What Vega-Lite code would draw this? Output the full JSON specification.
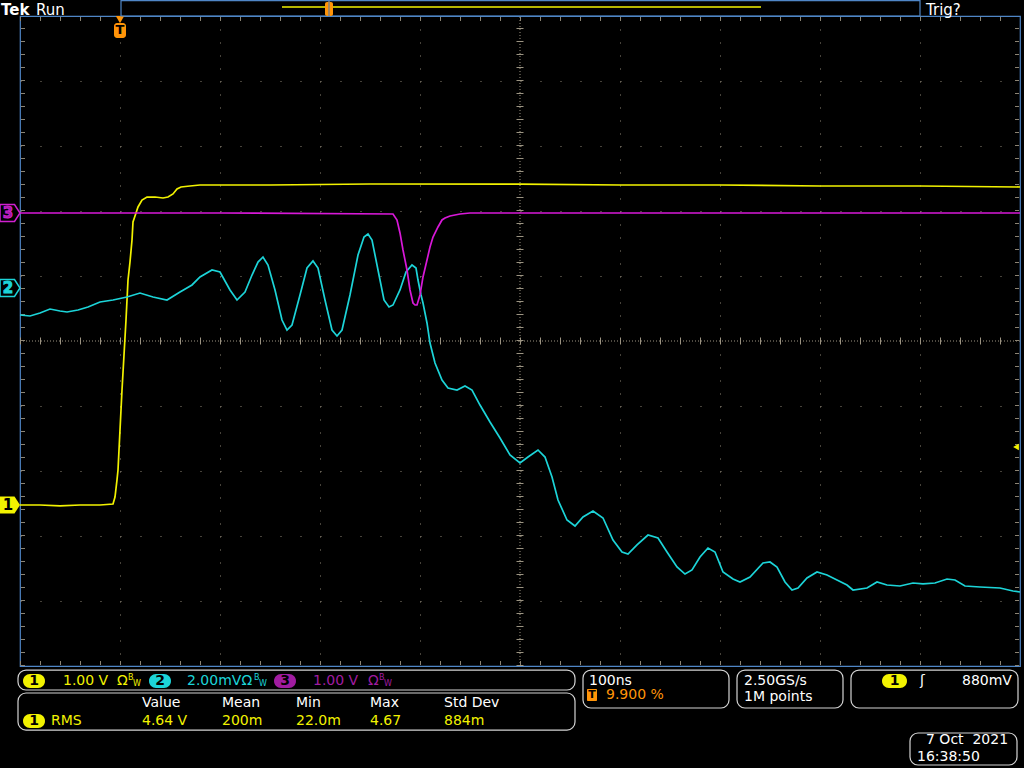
{
  "$schema": "https://vega.github.io/schema/vega-lite/v6.json",
  "width": 1000,
  "height": 650,
  "autosize": {"type": "none"},
  "padding": {"left": 20, "top": 16, "right": 4, "bottom": 102},
  "background": "#000000",
  "config": {
    "view": {"stroke": "#4f86c6", "strokeWidth": 1.2},
    "text": {"font": "DejaVu Sans"}
  },
  "datasets": {
    "traces": [
      {"ch":"1","t":-100,"v":-2.523},{"ch":"1","t":-80,"v":-2.523},{"ch":"1","t":-60,"v":-2.538},{"ch":"1","t":-40,"v":-2.523},{"ch":"1","t":-20,"v":-2.523},{"ch":"1","t":-7,"v":-2.508},{"ch":"1","t":-5,"v":-2.4},{"ch":"1","t":-3,"v":-2.138},{"ch":"1","t":-2,"v":-1.985},{"ch":"1","t":0,"v":-1.369},{"ch":"1","t":2,"v":-0.754},{"ch":"1","t":4,"v":-0.215},{"ch":"1","t":6,"v":0.323},{"ch":"1","t":8,"v":0.938},{"ch":"1","t":10,"v":1.215},{"ch":"1","t":12,"v":1.554},{"ch":"1","t":13,"v":1.831},{"ch":"1","t":16,"v":1.969},{"ch":"1","t":18,"v":2.062},{"ch":"1","t":22,"v":2.169},{"ch":"1","t":27,"v":2.215},{"ch":"1","t":35,"v":2.215},{"ch":"1","t":43,"v":2.2},{"ch":"1","t":48,"v":2.215},{"ch":"1","t":53,"v":2.262},{"ch":"1","t":57,"v":2.338},{"ch":"1","t":61,"v":2.369},{"ch":"1","t":70,"v":2.385},{"ch":"1","t":80,"v":2.4},{"ch":"1","t":150,"v":2.4},{"ch":"1","t":250,"v":2.415},{"ch":"1","t":400,"v":2.415},{"ch":"1","t":500,"v":2.4},{"ch":"1","t":600,"v":2.4},{"ch":"1","t":700,"v":2.385},{"ch":"1","t":800,"v":2.385},{"ch":"1","t":900,"v":2.369},
      {"ch":"2","t":-100,"v":0.4},{"ch":"2","t":-90,"v":0.385},{"ch":"2","t":-80,"v":0.431},{"ch":"2","t":-70,"v":0.492},{"ch":"2","t":-60,"v":0.462},{"ch":"2","t":-53,"v":0.446},{"ch":"2","t":-42,"v":0.477},{"ch":"2","t":-32,"v":0.523},{"ch":"2","t":-20,"v":0.6},{"ch":"2","t":-7,"v":0.631},{"ch":"2","t":7,"v":0.677},{"ch":"2","t":20,"v":0.738},{"ch":"2","t":33,"v":0.677},{"ch":"2","t":47,"v":0.631},{"ch":"2","t":60,"v":0.754},{"ch":"2","t":72,"v":0.862},{"ch":"2","t":80,"v":0.985},{"ch":"2","t":92,"v":1.092},{"ch":"2","t":100,"v":1.062},{"ch":"2","t":110,"v":0.785},{"ch":"2","t":117,"v":0.631},{"ch":"2","t":125,"v":0.754},{"ch":"2","t":132,"v":1.015},{"ch":"2","t":138,"v":1.215},{"ch":"2","t":143,"v":1.292},{"ch":"2","t":148,"v":1.169},{"ch":"2","t":155,"v":0.785},{"ch":"2","t":162,"v":0.323},{"ch":"2","t":167,"v":0.169},{"ch":"2","t":172,"v":0.246},{"ch":"2","t":180,"v":0.708},{"ch":"2","t":187,"v":1.123},{"ch":"2","t":193,"v":1.231},{"ch":"2","t":198,"v":1.123},{"ch":"2","t":205,"v":0.631},{"ch":"2","t":212,"v":0.169},{"ch":"2","t":217,"v":0.077},{"ch":"2","t":222,"v":0.169},{"ch":"2","t":230,"v":0.708},{"ch":"2","t":238,"v":1.323},{"ch":"2","t":244,"v":1.6},{"ch":"2","t":248,"v":1.646},{"ch":"2","t":252,"v":1.554},{"ch":"2","t":258,"v":1.092},{"ch":"2","t":264,"v":0.631},{"ch":"2","t":269,"v":0.523},{"ch":"2","t":273,"v":0.554},{"ch":"2","t":280,"v":0.785},{"ch":"2","t":286,"v":1.062},{"ch":"2","t":292,"v":1.169},{"ch":"2","t":296,"v":1.123},{"ch":"2","t":298,"v":0.938},{"ch":"2","t":301,"v":0.708},{"ch":"2","t":303,"v":0.585},{"ch":"2","t":307,"v":0.277},{"ch":"2","t":310,"v":-0.031},{"ch":"2","t":315,"v":-0.338},{"ch":"2","t":322,"v":-0.6},{"ch":"2","t":328,"v":-0.723},{"ch":"2","t":337,"v":-0.754},{"ch":"2","t":345,"v":-0.692},{"ch":"2","t":352,"v":-0.754},{"ch":"2","t":360,"v":-0.985},{"ch":"2","t":370,"v":-1.246},{"ch":"2","t":380,"v":-1.492},{"ch":"2","t":390,"v":-1.754},{"ch":"2","t":400,"v":-1.877},{"ch":"2","t":408,"v":-1.785},{"ch":"2","t":418,"v":-1.677},{"ch":"2","t":425,"v":-1.785},{"ch":"2","t":432,"v":-2.092},{"ch":"2","t":438,"v":-2.446},{"ch":"2","t":447,"v":-2.754},{"ch":"2","t":455,"v":-2.846},{"ch":"2","t":463,"v":-2.708},{"ch":"2","t":473,"v":-2.615},{"ch":"2","t":483,"v":-2.723},{"ch":"2","t":493,"v":-3.062},{"ch":"2","t":502,"v":-3.246},{"ch":"2","t":508,"v":-3.277},{"ch":"2","t":517,"v":-3.138},{"ch":"2","t":528,"v":-2.985},{"ch":"2","t":538,"v":-3.031},{"ch":"2","t":547,"v":-3.246},{"ch":"2","t":557,"v":-3.477},{"ch":"2","t":565,"v":-3.585},{"ch":"2","t":572,"v":-3.523},{"ch":"2","t":580,"v":-3.323},{"ch":"2","t":588,"v":-3.185},{"ch":"2","t":595,"v":-3.246},{"ch":"2","t":603,"v":-3.554},{"ch":"2","t":613,"v":-3.662},{"ch":"2","t":620,"v":-3.708},{"ch":"2","t":630,"v":-3.631},{"ch":"2","t":643,"v":-3.415},{"ch":"2","t":650,"v":-3.4},{"ch":"2","t":657,"v":-3.477},{"ch":"2","t":665,"v":-3.708},{"ch":"2","t":672,"v":-3.831},{"ch":"2","t":678,"v":-3.8},{"ch":"2","t":687,"v":-3.646},{"ch":"2","t":697,"v":-3.554},{"ch":"2","t":707,"v":-3.6},{"ch":"2","t":717,"v":-3.677},{"ch":"2","t":727,"v":-3.754},{"ch":"2","t":733,"v":-3.831},{"ch":"2","t":747,"v":-3.8},{"ch":"2","t":757,"v":-3.708},{"ch":"2","t":767,"v":-3.754},{"ch":"2","t":780,"v":-3.769},{"ch":"2","t":793,"v":-3.723},{"ch":"2","t":803,"v":-3.738},{"ch":"2","t":815,"v":-3.723},{"ch":"2","t":827,"v":-3.662},{"ch":"2","t":835,"v":-3.677},{"ch":"2","t":845,"v":-3.769},{"ch":"2","t":860,"v":-3.785},{"ch":"2","t":880,"v":-3.8},{"ch":"2","t":893,"v":-3.846},{"ch":"2","t":900,"v":-3.862},
      {"ch":"3","t":-100,"v":1.969},{"ch":"3","t":100,"v":1.969},{"ch":"3","t":273,"v":1.954},{"ch":"3","t":277,"v":1.862},{"ch":"3","t":280,"v":1.662},{"ch":"3","t":283,"v":1.4},{"ch":"3","t":287,"v":1.092},{"ch":"3","t":290,"v":0.785},{"ch":"3","t":293,"v":0.585},{"ch":"3","t":295,"v":0.554},{"ch":"3","t":297,"v":0.554},{"ch":"3","t":300,"v":0.708},{"ch":"3","t":303,"v":0.985},{"ch":"3","t":307,"v":1.246},{"ch":"3","t":310,"v":1.446},{"ch":"3","t":313,"v":1.6},{"ch":"3","t":318,"v":1.754},{"ch":"3","t":322,"v":1.862},{"ch":"3","t":325,"v":1.892},{"ch":"3","t":330,"v":1.923},{"ch":"3","t":340,"v":1.954},{"ch":"3","t":350,"v":1.969},{"ch":"3","t":600,"v":1.969},{"ch":"3","t":900,"v":1.969}
    ],
    "hcenter": [{"t":-100,"t2":900,"v":0}],
    "vcenter": [{"t":400,"v":-5,"v2":5}],
    "topedge": [{"t":-100,"t2":900,"v":5}],
    "botedge": [{"t":-100,"t2":900,"v":-5}],
    "leftedge": [{"t":-100,"v":-5,"v2":5}],
    "rightedge": [{"t":900,"v":-5,"v2":5}],
    "marker1": [{"t":-110,"v":-2.523,"ch":"1"}],
    "marker23": [{"t":-110,"v":0.815,"ch":"2"},{"t":-110,"v":1.969,"ch":"3"}],
    "markerdigits": [{"t":-112,"v":-2.523,"label":"1","ch":"1"}],
    "markerdigits23": [{"t":-112,"v":0.815,"label":"2","ch":"2"},{"t":-112,"v":1.969,"label":"3","ch":"3"}],
    "triglevel": [{"t":896,"v":-1.631}],
    "trigtri": [{"t":0,"v":4.946}],
    "trigbox": [{"t":-6,"t2":6,"v":4.892,"v2":4.662}],
    "trigT": [{"t":0,"v":4.777,"label":"T"}],
    "topbar": [{"t":1,"t2":800,"v":5.238,"v2":5.0}],
    "topline": [{"t":162,"t2":641,"v":5.138}],
    "topmark": [{"t":205,"t2":213,"v":5.215,"v2":5.0}],
    "topmarkline": [{"t":209,"v":5.23,"v2":5.0}],
    "panels": [
      {"t":-102,"t2":455,"v":-5.062,"v2":-5.369},
      {"t":-102,"t2":455,"v":-5.415,"v2":-5.985},
      {"t":463,"t2":609,"v":-5.062,"v2":-5.646},
      {"t":617,"t2":723,"v":-5.062,"v2":-5.646},
      {"t":731,"t2":898,"v":-5.062,"v2":-5.646},
      {"t":790,"t2":897,"v":-6.031,"v2":-6.523}
    ],
    "pills": [
      {"ch":"1","t":-97,"t2":-75,"v":-5.123,"v2":-5.338},
      {"ch":"2","t":29,"t2":51,"v":-5.123,"v2":-5.338},
      {"ch":"3","t":154,"t2":176,"v":-5.123,"v2":-5.338},
      {"ch":"1","t":-97,"t2":-75,"v":-5.738,"v2":-5.954},
      {"ch":"1","t":762,"t2":787,"v":-5.123,"v2":-5.338}
    ],
    "pilldigits": [
      {"t":-86,"v":-5.231,"label":"1"},
      {"t":40,"v":-5.231,"label":"2"},
      {"t":165,"v":-5.231,"label":"3"},
      {"t":-86,"v":-5.846,"label":"1"},
      {"t":774.5,"v":-5.231,"label":"1"}
    ],
    "whitetext": [
      {"t":22,"v":-5.569,"label":"Value"},
      {"t":102,"v":-5.569,"label":"Mean"},
      {"t":176,"v":-5.569,"label":"Min"},
      {"t":250,"v":-5.569,"label":"Max"},
      {"t":324,"v":-5.569,"label":"Std Dev"},
      {"t":469,"v":-5.231,"label":"100ns"},
      {"t":624,"v":-5.231,"label":"2.50GS/s"},
      {"t":624,"v":-5.477,"label":"1M points"},
      {"t":806,"v":-6.138,"label":"7 Oct\u00a0 2021"},
      {"t":797,"v":-6.4,"label":"16:38:50"},
      {"t":842,"v":-5.231,"label":"880mV"},
      {"t":800,"v":-5.231,"label":"ʃ"}
    ],
    "toptext": [
      {"t":-84,"v":5.092,"label":"Run"},
      {"t":806,"v":5.092,"label":"Trig?"}
    ],
    "tek": [{"t":-119,"v":5.092,"label":"Tek"}],
    "colortext": [
      {"ch":"1","t":-57,"v":-5.231,"label":"1.00 V"},
      {"ch":"1","t":-3,"v":-5.231,"label":"Ω"},
      {"ch":"2","t":67,"v":-5.231,"label":"2.00mVΩ"},
      {"ch":"3","t":193,"v":-5.231,"label":"1.00 V"},
      {"ch":"3","t":248,"v":-5.231,"label":"Ω"},
      {"ch":"1","t":-69,"v":-5.846,"label":"RMS"},
      {"ch":"1","t":22,"v":-5.846,"label":"4.64 V"},
      {"ch":"1","t":102,"v":-5.846,"label":"200m"},
      {"ch":"1","t":176,"v":-5.846,"label":"22.0m"},
      {"ch":"1","t":250,"v":-5.846,"label":"4.67"},
      {"ch":"1","t":324,"v":-5.846,"label":"884m"}
    ],
    "bwtext": [
      {"ch":"1","t":8,"v":-5.185,"label":"B"},
      {"ch":"1","t":13,"v":-5.277,"label":"W"},
      {"ch":"2","t":134,"v":-5.185,"label":"B"},
      {"ch":"2","t":139,"v":-5.277,"label":"W"},
      {"ch":"3","t":259,"v":-5.185,"label":"B"},
      {"ch":"3","t":264,"v":-5.277,"label":"W"}
    ],
    "orangetext": [{"t":486,"v":-5.446,"label":"9.900 %"}],
    "orangebox": [{"t":467,"t2":477,"v":-5.354,"v2":-5.538}],
    "orangeT": [{"t":472,"v":-5.446,"label":"T"}]
  },
  "encoding": {
    "x": {"field": "t", "type": "quantitative", "scale": {"domain": [-100, 900], "nice": false, "zero": false},
      "axis": {"values": [0,100,200,300,500,600,700,800], "grid": true, "gridColor": "#8c8474", "gridDash": [1,12], "gridWidth": 1, "domain": false, "ticks": false, "labels": false, "title": null}},
    "y": {"field": "v", "type": "quantitative", "scale": {"domain": [-5, 5], "nice": false, "zero": false},
      "axis": {"values": [-4,-3,-2,-1,1,2,3,4], "grid": true, "gridColor": "#8c8474", "gridDash": [1,19], "gridWidth": 1, "domain": false, "ticks": false, "labels": false, "title": null}}
  },
  "layer": [
    {"data": {"name": "hcenter"}, "mark": {"type": "rule", "color": "#9c9482", "strokeWidth": 1, "strokeDash": [1,2]}, "encoding": {"x2": {"field": "t2"}}},
    {"data": {"name": "hcenter"}, "mark": {"type": "rule", "color": "#9c9482", "strokeWidth": 7, "strokeDash": [1,19]}, "encoding": {"x2": {"field": "t2"}}},
    {"data": {"name": "vcenter"}, "mark": {"type": "rule", "color": "#9c9482", "strokeWidth": 1, "strokeDash": [1,2]}, "encoding": {"y2": {"field": "v2"}}},
    {"data": {"name": "vcenter"}, "mark": {"type": "rule", "color": "#9c9482", "strokeWidth": 7, "strokeDash": [1,12]}, "encoding": {"y2": {"field": "v2"}}},
    {"data": {"name": "topedge"}, "mark": {"type": "rule", "color": "#8c8474", "strokeWidth": 4, "strokeDash": [1,19], "yOffset": 3}, "encoding": {"x2": {"field": "t2"}}},
    {"data": {"name": "botedge"}, "mark": {"type": "rule", "color": "#8c8474", "strokeWidth": 4, "strokeDash": [1,19], "yOffset": -3}, "encoding": {"x2": {"field": "t2"}}},
    {"data": {"name": "leftedge"}, "mark": {"type": "rule", "color": "#8c8474", "strokeWidth": 4, "strokeDash": [1,12], "xOffset": 3}, "encoding": {"y2": {"field": "v2"}}},
    {"data": {"name": "rightedge"}, "mark": {"type": "rule", "color": "#8c8474", "strokeWidth": 4, "strokeDash": [1,12], "xOffset": -3}, "encoding": {"y2": {"field": "v2"}}},
    {"data": {"name": "traces"}, "mark": {"type": "line", "strokeWidth": 1.7},
      "encoding": {"color": {"field": "ch", "type": "nominal", "scale": {"domain": ["1","2","3"], "range": ["#f2f200","#1cd4d8","#d818d8"]}, "legend": null}}},
    {"data": {"name": "marker1"}, "mark": {"type": "point", "shape": "M-1,-0.85L0.45,-0.85L1,0L0.45,0.85L-1,0.85Z", "size": 400, "filled": true, "opacity": 1, "strokeWidth": 0},
      "encoding": {"fill": {"field": "ch", "type": "nominal", "scale": {"domain": ["1","2","3"], "range": ["#f2f200","#1cd4d8","#a01ca0"]}, "legend": null}}},
    {"data": {"name": "marker23"}, "mark": {"type": "point", "shape": "M-1,-0.85L0.45,-0.85L1,0L0.45,0.85L-1,0.85Z", "size": 400, "filled": false, "opacity": 1, "strokeWidth": 1.5},
      "encoding": {"stroke": {"field": "ch", "type": "nominal", "scale": {"domain": ["1","2","3"], "range": ["#f2f200","#1cd4d8","#d020d0"]}, "legend": null}}},
    {"data": {"name": "markerdigits"}, "mark": {"type": "text", "fontSize": 15, "fontWeight": "bold", "align": "center", "baseline": "middle", "color": "#000000"}, "encoding": {"text": {"field": "label"}}},
    {"data": {"name": "markerdigits23"}, "mark": {"type": "text", "fontSize": 15, "fontWeight": "bold", "align": "center", "baseline": "middle"},
      "encoding": {"text": {"field": "label"}, "stroke": {"field": "ch", "type": "nominal", "legend": null}, "fill": {"field": "ch", "type": "nominal", "legend": null}}},
    {"data": {"name": "triglevel"}, "mark": {"type": "point", "shape": "triangle-left", "size": 45, "filled": true, "color": "#f2f200", "opacity": 1}},
    {"data": {"name": "trigtri"}, "mark": {"type": "point", "shape": "triangle-down", "size": 70, "filled": true, "color": "#ff9408", "opacity": 1}},
    {"data": {"name": "trigbox"}, "mark": {"type": "rect", "color": "#ff9408", "cornerRadius": 3}, "encoding": {"x2": {"field": "t2"}, "y2": {"field": "v2"}}},
    {"data": {"name": "trigT"}, "mark": {"type": "text", "fontSize": 13, "fontWeight": "bold", "align": "center", "baseline": "middle", "color": "#000000"}, "encoding": {"text": {"field": "label"}}},
    {"data": {"name": "topbar"}, "mark": {"type": "rect", "fill": null, "fillOpacity": 0, "stroke": "#4f86c6", "strokeWidth": 1.2}, "encoding": {"x2": {"field": "t2"}, "y2": {"field": "v2"}}},
    {"data": {"name": "topline"}, "mark": {"type": "rule", "color": "#f2f200", "strokeWidth": 1.5}, "encoding": {"x2": {"field": "t2"}}},
    {"data": {"name": "topmark"}, "mark": {"type": "rect", "color": "#ff9408", "cornerRadius": 2}, "encoding": {"x2": {"field": "t2"}, "y2": {"field": "v2"}}},
    {"data": {"name": "topmarkline"}, "mark": {"type": "rule", "color": "#808080", "strokeWidth": 1.5}, "encoding": {"y2": {"field": "v2"}}},
    {"data": {"name": "panels"}, "mark": {"type": "rect", "fill": "#000000", "stroke": "#d4d4d4", "strokeWidth": 1.2, "cornerRadius": 8}, "encoding": {"x2": {"field": "t2"}, "y2": {"field": "v2"}}},
    {"data": {"name": "pills"}, "mark": {"type": "rect", "cornerRadius": 7}, "encoding": {"x2": {"field": "t2"}, "y2": {"field": "v2"}, "fill": {"field": "ch", "type": "nominal", "legend": null}}},
    {"data": {"name": "pilldigits"}, "mark": {"type": "text", "fontSize": 14, "fontWeight": "bold", "align": "center", "baseline": "middle", "color": "#000000"}, "encoding": {"text": {"field": "label"}}},
    {"data": {"name": "whitetext"}, "mark": {"type": "text", "fontSize": 14, "align": "left", "baseline": "middle", "color": "#ffffff"}, "encoding": {"text": {"field": "label"}}},
    {"data": {"name": "toptext"}, "mark": {"type": "text", "fontSize": 15, "align": "left", "baseline": "middle", "color": "#ffffff"}, "encoding": {"text": {"field": "label"}}},
    {"data": {"name": "tek"}, "mark": {"type": "text", "fontSize": 15, "fontWeight": "bold", "align": "left", "baseline": "middle", "color": "#ffffff"}, "encoding": {"text": {"field": "label"}}},
    {"data": {"name": "colortext"}, "mark": {"type": "text", "fontSize": 14, "align": "left", "baseline": "middle"}, "encoding": {"text": {"field": "label"}, "fill": {"field": "ch", "type": "nominal", "legend": null}}},
    {"data": {"name": "bwtext"}, "mark": {"type": "text", "fontSize": 8, "align": "left", "baseline": "middle"}, "encoding": {"text": {"field": "label"}, "fill": {"field": "ch", "type": "nominal", "legend": null}}},
    {"data": {"name": "orangebox"}, "mark": {"type": "rect", "color": "#ff9408", "cornerRadius": 1}, "encoding": {"x2": {"field": "t2"}, "y2": {"field": "v2"}}},
    {"data": {"name": "orangeT"}, "mark": {"type": "text", "fontSize": 11, "fontWeight": "bold", "align": "center", "baseline": "middle", "color": "#000000"}, "encoding": {"text": {"field": "label"}}},
    {"data": {"name": "orangetext"}, "mark": {"type": "text", "fontSize": 14, "align": "left", "baseline": "middle", "color": "#ff9408"}, "encoding": {"text": {"field": "label"}}}
  ]
}
